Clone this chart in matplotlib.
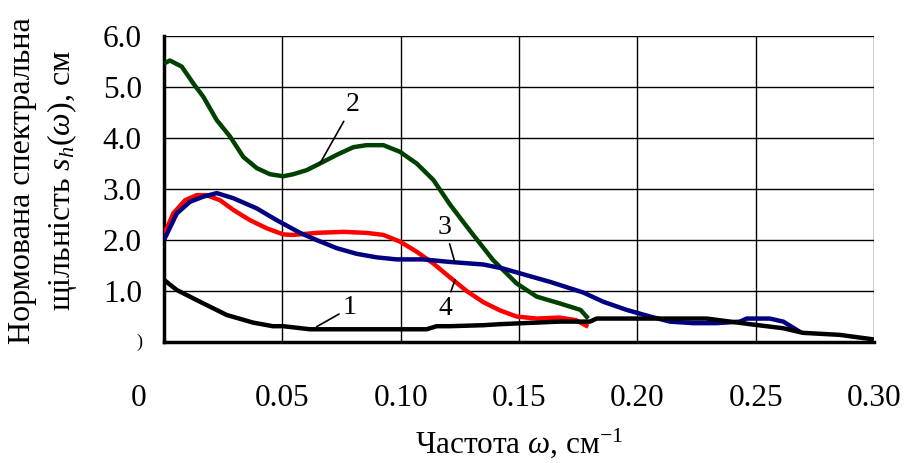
import matplotlib
matplotlib.use("Agg")
import matplotlib.pyplot as plt

plt.rcParams["font.family"] = ["Liberation Serif", "DejaVu Serif"]
plt.rcParams["mathtext.fontset"] = "custom"
plt.rcParams["mathtext.rm"] = "Liberation Serif"
plt.rcParams["mathtext.it"] = "Liberation Serif:italic"

# curve 1 (black)
x1 = [0.0, 0.0054, 0.0152, 0.0265, 0.0377, 0.046, 0.0504, 0.0617, 0.0927, 0.111, 0.1152,
      0.1208, 0.135, 0.142, 0.167, 0.18, 0.1828, 0.2054, 0.2293, 0.2476, 0.2617, 0.27,
      0.2856, 0.30]
y1 = [1.22, 1.02, 0.79, 0.53, 0.38, 0.31, 0.31, 0.25, 0.25, 0.25, 0.31,
      0.31, 0.33, 0.35, 0.40, 0.40, 0.46, 0.46, 0.46, 0.35, 0.27, 0.18,
      0.14, 0.05]

# curve 2 (green)
x2 = [0.0, 0.0025, 0.0075, 0.0124, 0.0166, 0.0223, 0.0279, 0.0335, 0.0392, 0.0448, 0.0504,
      0.0546, 0.0603, 0.0659, 0.073, 0.080, 0.0856, 0.0927, 0.0997, 0.1068, 0.1138, 0.1208,
      0.129, 0.139, 0.149, 0.1575, 0.167, 0.176, 0.1793]
y2 = [5.46, 5.52, 5.40, 5.07, 4.81, 4.35, 4.03, 3.63, 3.41, 3.29, 3.25,
      3.29, 3.37, 3.50, 3.67, 3.82, 3.86, 3.86, 3.73, 3.50, 3.18, 2.70,
      2.20, 1.61, 1.15, 0.89, 0.76, 0.63, 0.46]

# curve 3 (blue)
x3 = [0.0, 0.0054, 0.011, 0.0166, 0.0223, 0.0293, 0.0392, 0.0476, 0.0575, 0.0645, 0.073,
      0.0814, 0.0899, 0.0983, 0.1096, 0.1208, 0.135, 0.1434, 0.1532, 0.1631, 0.1772,
      0.1856, 0.1955, 0.2054, 0.2138, 0.2237, 0.2335, 0.2434, 0.2462, 0.256, 0.2617, 0.2687]
y3 = [2.00, 2.52, 2.75, 2.85, 2.92, 2.82, 2.62, 2.39, 2.14, 2.00, 1.84,
      1.73, 1.66, 1.62, 1.62, 1.57, 1.52, 1.44, 1.31, 1.18, 0.97,
      0.79, 0.63, 0.50, 0.40, 0.37, 0.37, 0.40, 0.46, 0.46, 0.40, 0.20]

# curve 4 (red)
x4 = [0.0, 0.0039, 0.0089, 0.0138, 0.018, 0.0237, 0.0293, 0.0363, 0.0434, 0.0504, 0.0546,
      0.0645, 0.0758, 0.0856, 0.0927, 0.0997, 0.1068, 0.1138, 0.1208, 0.1279, 0.135,
      0.142, 0.149, 0.1575, 0.167, 0.174, 0.1793]
y4 = [2.10, 2.52, 2.78, 2.88, 2.88, 2.78, 2.59, 2.39, 2.23, 2.11, 2.10,
      2.14, 2.16, 2.14, 2.10, 1.97, 1.77, 1.54, 1.27, 1.00, 0.78,
      0.62, 0.50, 0.46, 0.48, 0.43, 0.30]

xticks = [0.0, 0.05, 0.10, 0.15, 0.20, 0.25, 0.30]
xtick_labels = ["", "0.05", "0.10", "0.15", "0.20", "0.25", "0.30"]
yticks = [0, 1, 2, 3, 4, 5, 6]
ytick_labels = ["", "1.0", "2.0", "3.0", "4.0", "5.0", "6.0"]

# label text, label centre, point on curve
labels = [("1", (0.0786, 0.67), (0.0645, 0.30)),
          ("2", (0.0799, 4.65), (0.0659, 3.50)),
          ("3", (0.1187, 2.25), (0.1230, 1.55)),
          ("4", (0.1187, 0.66), (0.1230, 1.22))]

fig = plt.figure(figsize=(9.06, 4.63), dpi=100, facecolor="white")
ax = fig.add_axes([0.181, 0.2613, 0.7836, 0.6609])

ax.plot(x2, y2, color="#004000", lw=3.2, solid_capstyle="butt", zorder=3)
ax.plot(x3, y3, color="#000080", lw=3.2, solid_capstyle="butt", zorder=4)
ax.plot(x4, y4, color="#ff0000", lw=3.2, solid_capstyle="butt", zorder=3)
ax.plot(x1, y1, color="black", lw=3.2, solid_capstyle="butt", zorder=5)

for txt, pos, pt in labels:
    ax.annotate(txt, xy=pt, xytext=pos, fontsize=20, ha="center", va="center",
                arrowprops=dict(arrowstyle="-", color="black", lw=1.2,
                                shrinkA=1, shrinkB=0), zorder=6)

ax.set_xlim(0, 0.30)
ax.set_ylim(0, 6.0)
ax.set_xticks(xticks)
ax.set_xticklabels(xtick_labels)
ax.set_yticks(yticks)
ax.set_yticklabels(ytick_labels)
ax.tick_params(axis="both", length=0, labelsize=22.5)
ax.tick_params(axis="x", pad=30)
ax.tick_params(axis="y", pad=16)
ax.grid(True, color="black", lw=1)
ax.set_axisbelow(True)

for side in ("top", "right"):
    ax.spines[side].set_visible(False)
for side in ("left", "bottom"):
    ax.spines[side].set_linewidth(2.5)

# stray zero labels as in the original figure
ax.annotate("0", xy=(0, 0), xycoords="axes fraction", xytext=(-18, -30),
            textcoords="offset points", ha="center", va="top", fontsize=22.5)
ax.annotate(")", xy=(0, 0), xycoords="axes fraction", xytext=(-18, 0),
            textcoords="offset points", ha="center", va="center", fontsize=13)

ax.set_xlabel("Частота $\\omega$, см$^{-1}$", fontsize=22.5)
ax.xaxis.set_label_coords(0.5, -0.275)
ax.set_ylabel("Нормована спектральна\nщільність $s_h(\\omega)$, см", fontsize=23,
              linespacing=1.3)
ax.yaxis.set_label_coords(-0.12, 0.528)

fig.savefig("out.png", dpi=100)
